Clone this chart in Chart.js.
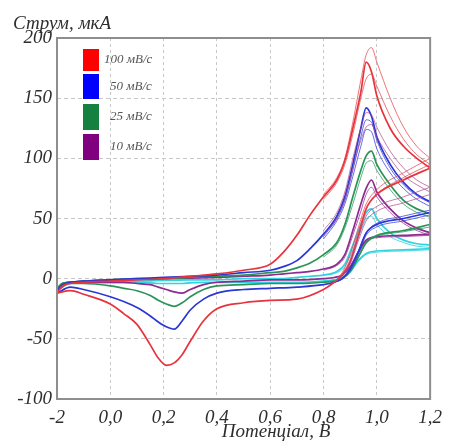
<!DOCTYPE html>
<html>
<head>
<meta charset="utf-8">
<script src="https://cdn.jsdelivr.net/npm/chart.js@4.4.1/dist/chart.umd.min.js"></script>
<style>
  html, body { margin: 0; padding: 0; background: #fff; }
  #wrap { width: 450px; height: 443px; }
</style>
</head>
<body>
<div id="wrap"><canvas id="cv" width="450" height="443"></canvas></div>
<script>
// Cyclic voltammograms at four scan rates (current, µA vs potential, V)

const SCAN_LABELS = ['100 мВ/с', '50 мВ/с', '25 мВ/с', '10 мВ/с'];
const SCAN_COLORS = ['#ff0000', '#0000ff', '#168040', '#800080'];

const X_TICKS = [-0.2, 0.0, 0.2, 0.4, 0.6, 0.8, 1.0, 1.2];
const Y_TICKS = [-100, -50, 0, 50, 100, 150, 200];

// full cycle: anodic sweep on fwdX, cathodic sweep back on revX
const fwdX = [-0.2, -0.18, -0.15, -0.1, 0.0, 0.1, 0.2, 0.3, 0.4, 0.5, 0.6, 0.65, 0.7, 0.75, 0.8, 0.85, 0.88, 0.91, 0.94, 0.96, 0.98, 1.0, 1.05, 1.1, 1.15, 1.2];
const revX = [1.2, 1.1, 1.0, 0.96, 0.93, 0.9, 0.87, 0.84, 0.8, 0.7, 0.6, 0.5, 0.4, 0.35, 0.3, 0.27, 0.24, 0.21, 0.18, 0.15, 0.1, 0.05, 0.0, -0.1, -0.15, -0.2];

const red100Fwd = [-12, -6, -4, -3, -2, -1, 0, 2, 4, 7, 12, 22, 36, 53, 68, 82, 98, 125, 155, 180, 172, 152, 125, 110, 100, 92];
const red100Rev = [92, 82, 70, 58, 35, 14, 3, -3, -9, -17, -18, -20, -25, -35, -52, -63, -70, -72, -66, -55, -38, -29, -21, -13, -10, -12];
const blue50Fwd = [-10, -5, -3, -2, -1, 0, 1, 2, 3, 5, 7, 10, 15, 25, 37, 52, 68, 95, 125, 142, 135, 118, 95, 80, 70, 64];
const blue50Rev = [55, 50, 45, 38, 22, 8, 0, -3, -5, -7, -8, -9, -12, -17, -26, -35, -42, -40, -36, -31, -24, -19, -15, -9, -7, -12];
const green25Fwd = [-9, -4, -3, -2, -1, 0, 0, 1, 2, 3, 5, 6, 9, 13, 20, 30, 45, 68, 90, 102, 106, 95, 78, 65, 58, 54];
const green25Rev = [45, 40, 36, 30, 18, 6, 0, -2, -3, -4, -4, -5, -6, -9, -15, -20, -23, -21, -18, -14, -10, -8, -6, -4, -4, -10];
const purple10Fwd = [-8, -4, -3, -2, -1, -0.5, 0, 0.5, 1, 2, 3, 4, 5, 6, 8, 12, 20, 40, 62, 75, 82, 72, 58, 48, 42, 38];
const purple10Rev = [37, 36, 35, 32, 22, 10, 3, 1, 0, -1, -1, -2, -3, -5, -9, -12, -11, -9, -7, -5, -4, -3, -3, -3, -3, -9];
const cyanFwd = [-9, -4, -3, -2.5, -2, -2, -1.5, -1, -1, 0, 0, 0, 1, 2, 3, 6, 12, 28, 45, 55, 58, 50, 38, 32, 29, 28];
const cyanRev = [25, 24, 23, 21, 15, 6, 1, -1, -2, -3, -3, -3, -3, -3, -3.5, -4, -4, -4, -4, -3.5, -3, -3, -3, -3, -3, -9];

// later cycles, only the region past 0.8 V where they separate
const peakX = [0.8, 0.85, 0.88, 0.91, 0.94, 0.96, 0.98, 1.0, 1.05, 1.1, 1.15, 1.2];
const tailX = [1.2, 1.1, 1.0, 0.96, 0.93, 0.9, 0.87, 0.84];

const red100Peak2 = [70, 84, 100, 130, 165, 186, 192, 180, 150, 126, 110, 100];
const red100Tail2 = [100, 88, 74, 62, 42, 20, 5, -3];
const red100Peak3 = [66, 80, 95, 120, 150, 166, 170, 160, 135, 116, 103, 95];
const red100Tail3 = [95, 84, 70, 58, 38, 16, 4, -3];
const mauvePeak1 = [40, 55, 72, 100, 125, 138, 136, 126, 106, 92, 82, 76];
const mauveTail1 = [76, 68, 60, 52, 34, 14, 2, -3];
const mauvePeak2 = [36, 50, 66, 92, 115, 126, 128, 118, 100, 86, 78, 72];
const mauveTail2 = [70, 63, 56, 48, 31, 12, 2, -3];
const blue50Peak2 = [35, 50, 65, 90, 118, 132, 130, 115, 92, 78, 69, 63];
const blue50Tail2 = [57, 52, 46, 38, 22, 8, 0, -3];
const blue50Peak3 = [33, 48, 62, 85, 110, 124, 122, 108, 88, 75, 66, 60];
const blue50Tail3 = [53, 48, 43, 36, 20, 7, 0, -3];
const green25Peak2 = [18, 28, 42, 62, 84, 96, 98, 90, 74, 62, 55, 51];
const green25Tail2 = [43, 39, 35, 29, 17, 6, 0, -2];
const purple10Peak2 = [7, 11, 18, 36, 56, 70, 76, 68, 55, 46, 40, 36];
const purple10Tail2 = [36, 35, 34, 31, 21, 9, 3, 1];
const cyanPeak2 = [3, 5, 10, 24, 40, 50, 52, 45, 35, 30, 27, 26];
const cyanTail2 = [24, 23, 22, 20, 14, 5, 1, -1];

function zip(xs, ys) {
  return xs.map((x, i) => ({ x, y: ys[i] }));
}

function sweep(xs, ys, color, width) {
  return {
    data: zip(xs, ys), borderColor: color, borderWidth: width,
    showLine: true, pointRadius: 0, cubicInterpolationMode: 'monotone', fill: false,
  };
}

// each cycle is drawn as its two sweeps
function cycle(xa, ya, xb, yb, color, width) {
  return [sweep(xa, ya, color, width), sweep(xb, yb, color, width)];
}

const THIN_RED = 'rgba(230,70,80,0.75)';
const THIN_MAUVE = 'rgba(170,70,140,0.7)';
const THIN_BLUE = 'rgba(50,60,220,0.75)';

const datasets = [
  ...cycle(peakX, red100Peak2, tailX, red100Tail2, THIN_RED, 1),
  ...cycle(peakX, red100Peak3, tailX, red100Tail3, THIN_RED, 1),
  ...cycle(peakX, mauvePeak1, tailX, mauveTail1, THIN_MAUVE, 1),
  ...cycle(peakX, mauvePeak2, tailX, mauveTail2, THIN_MAUVE, 1),
  ...cycle(fwdX, red100Fwd, revX, red100Rev, '#e8333d', 1.7),
  ...cycle(peakX, blue50Peak2, tailX, blue50Tail2, THIN_BLUE, 1),
  ...cycle(peakX, blue50Peak3, tailX, blue50Tail3, THIN_BLUE, 1),
  ...cycle(fwdX, blue50Fwd, revX, blue50Rev, '#2a36d6', 1.7),
  ...cycle(peakX, green25Peak2, tailX, green25Tail2, 'rgba(40,150,90,0.75)', 1),
  ...cycle(fwdX, green25Fwd, revX, green25Rev, '#2a9458', 1.7),
  ...cycle(peakX, purple10Peak2, tailX, purple10Tail2, 'rgba(150,50,150,0.75)', 1),
  ...cycle(fwdX, purple10Fwd, revX, purple10Rev, '#8e2a90', 1.7),
  ...cycle(peakX, cyanPeak2, tailX, cyanTail2, 'rgba(40,210,225,0.8)', 1),
  ...cycle(fwdX, cyanFwd, revX, cyanRev, '#2fd4e0', 1.7),
];

const SERIF = '"Liberation Serif", "DejaVu Serif", serif';

// frame, axis captions and the scan-rate key
const overlay = {
  id: 'overlay',
  afterDraw(chart) {
    const { ctx, chartArea: a } = chart;
    ctx.save();
    ctx.strokeStyle = '#8e8e8e';
    ctx.lineWidth = 2;
    ctx.strokeRect(a.left, a.top, a.right - a.left, a.bottom - a.top);

    ctx.fillStyle = '#2e2e2e';
    ctx.font = 'italic 19px ' + SERIF;
    ctx.textBaseline = 'alphabetic';
    ctx.textAlign = 'left';
    ctx.fillText('Струм, мкА', 13, 29);
    ctx.textAlign = 'center';
    ctx.fillText('Потенціал, B', 276, 437);

    const keyY = [49, 74, 104, 134];
    const keyH = [22, 25, 26, 26];
    const textX = [104, 110, 110, 110];
    ctx.font = 'italic 13px ' + SERIF;
    ctx.textAlign = 'left';
    ctx.textBaseline = 'middle';
    SCAN_LABELS.forEach((label, i) => {
      ctx.fillStyle = SCAN_COLORS[i];
      ctx.fillRect(83, keyY[i], 16, keyH[i]);
      ctx.fillStyle = '#555';
      ctx.fillText(label, textX[i], keyY[i] + keyH[i] / 2);
    });
    ctx.restore();
  },
};

new Chart(document.getElementById('cv'), {
  type: 'scatter',
  data: { datasets },
  options: {
    responsive: false,
    animation: false,
    layout: { padding: { top: 38, right: 15, left: 0, bottom: 0 } },
    plugins: { legend: { display: false }, tooltip: { enabled: false } },
    scales: {
      x: {
        min: -0.2, max: 1.2,
        afterFit: (s) => { s.height = 44; },
        afterBuildTicks: (s) => { s.ticks = X_TICKS.map((v) => ({ value: v })); },
        ticks: {
          padding: 8,
          color: '#2e2e2e',
          font: { family: SERIF, size: 19, style: 'italic' },
          callback: (v) => (Math.abs(v + 0.2) < 1e-6 ? '-2' : v.toFixed(1).replace('.', ',')),
        },
        grid: { color: '#c8c8c8', drawTicks: false },
        border: { display: false, dash: [3, 3] },
      },
      y: {
        min: -100, max: 200,
        afterFit: (s) => { s.width = 57; },
        afterBuildTicks: (s) => { s.ticks = Y_TICKS.map((v) => ({ value: v })); },
        ticks: {
          padding: 5,
          color: '#2e2e2e',
          font: { family: SERIF, size: 19, style: 'italic' },
        },
        grid: { color: '#c8c8c8', drawTicks: false },
        border: { display: false, dash: [4, 3] },
      },
    },
  },
  plugins: [overlay],
});
</script>
</body>
</html>
